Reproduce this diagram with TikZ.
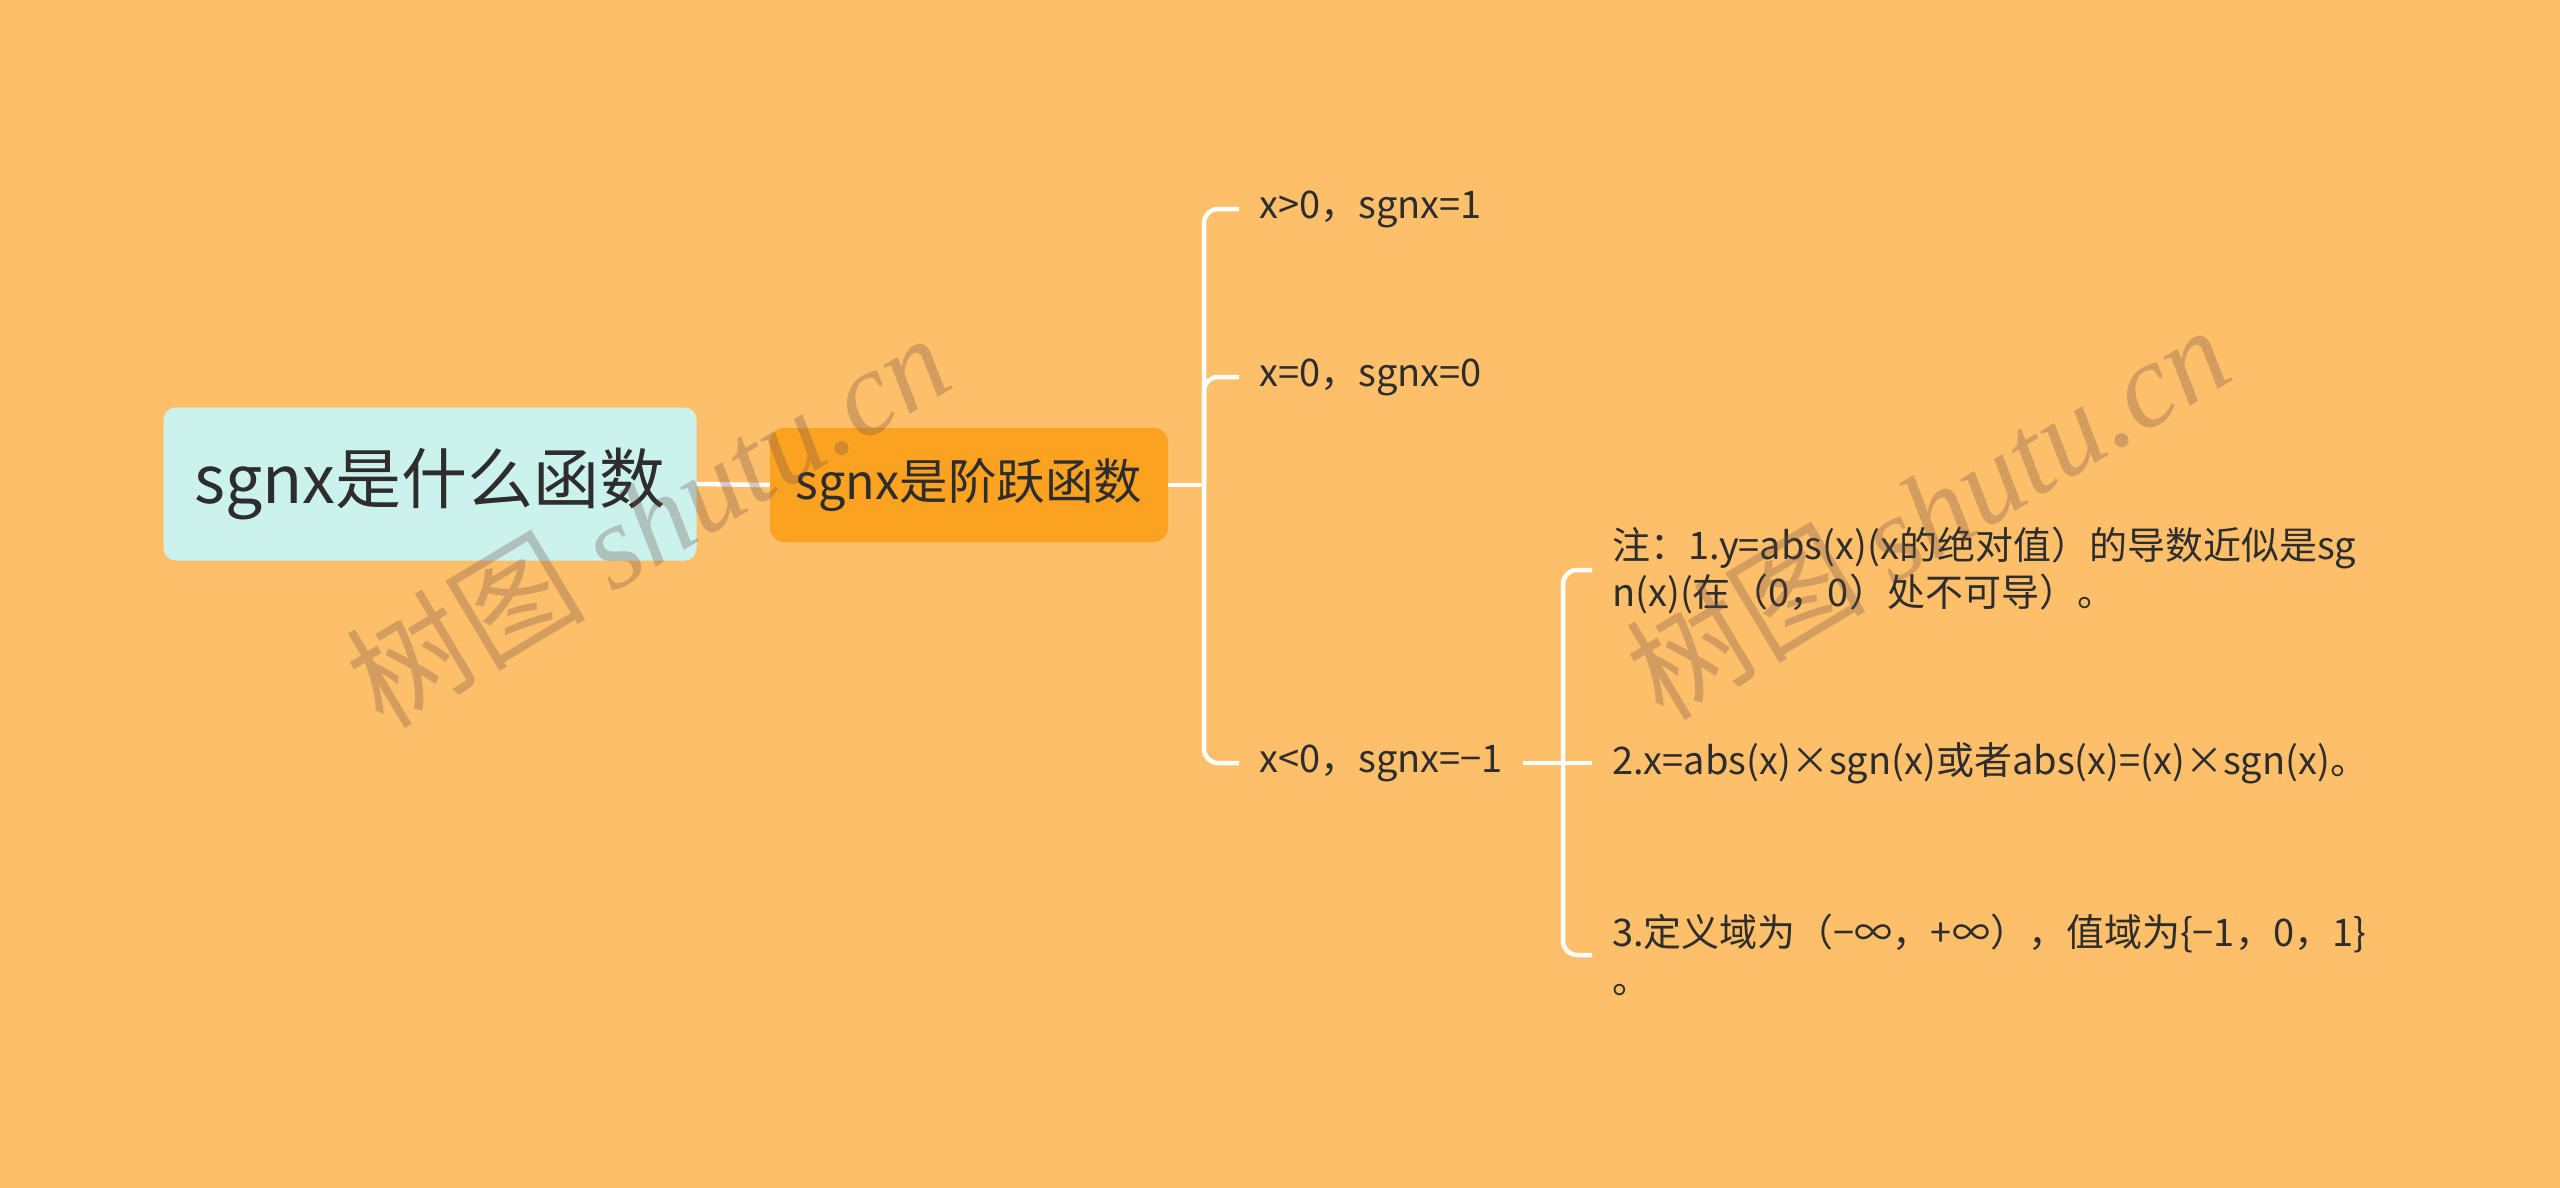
\documentclass[tikz,border=0pt]{standalone}
\usepackage{fontspec}
\setmainfont{Noto Sans CJK SC}
\newfontfamily\wmserif{Liberation Serif}
\usetikzlibrary{positioning}

\definecolor{bgorange}{RGB}{254,191,106}
\definecolor{rootcyan}{RGB}{204,242,238}
\definecolor{suborange}{RGB}{252,162,33}
\definecolor{inkgray}{RGB}{45,45,45}
\definecolor{wmbrown}{RGB}{110,80,70}

\begin{document}
\begin{tikzpicture}[
    x=1pt,
    y=-1pt,
    rootbox/.style={
        rectangle,
        rounded corners=12pt,
        fill=rootcyan,
        text=inkgray,
        minimum width=533pt,
        minimum height=153pt,
        font=\fontsize{66}{79}\selectfont
    },
    subbox/.style={
        rectangle,
        rounded corners=14pt,
        fill=suborange,
        text=inkgray,
        minimum width=398pt,
        minimum height=114pt,
        font=\fontsize{48.5}{58}\selectfont
    },
    leaf/.style={
        anchor=west,
        align=left,
        inner xsep=20pt,
        text=inkgray,
        font=\fontsize{38}{47}\selectfont
    },
    link/.style={draw=white, line width=4.5pt, rounded corners=14pt},
    wmark/.style={text=wmbrown, text opacity=0.3, font=\fontsize{120}{120}\selectfont}
]

% Background and page size
\fill[bgorange] (0,0) rectangle (2560,1188);
\useasboundingbox (0,0) rectangle (2560,1188);

% Main topic and subtopic
\node[rootbox] (root) at (430,484) {sgnx是什么函数};
\node[subbox] (jump) at (969,485) {sgnx是阶跃函数};

% Three cases
\node[leaf] (pos) at (1239,209) {x>0，sgnx=1};
\node[leaf] (zero) at (1239,377) {x=0，sgnx=0};
\node[leaf] (neg) at (1239,763) {x<0，sgnx=−1};

% Notes on the negative case
\node[leaf] (note1) at (1592,570) {注：1.y=abs(x)(x的绝对值）的导数近似是sg\\n(x)(在（0，0）处不可导）。};
\node[leaf] (note2) at (1592,763) {2.x=abs(x)×sgn(x)或者abs(x)=(x)×sgn(x)。};
\node[leaf] (note3) at (1592,955) {3.定义域为（−∞，+∞），值域为\{−1，0，1\}\\。};

% Forks
\coordinate (fork1) at (1204,485);
\coordinate (fork2) at (1563,763);

% Connectors
\draw[link] (root.east) -- (jump.west);
\draw[link] (jump.east) -- (fork1);
\draw[link] (fork1) |- (pos.west);
\draw[link] (fork1) |- (zero.west);
\draw[link] (fork1) |- (neg.west);
\draw[link] (neg.east) -- (fork2);
\draw[link] (fork2) |- (note1.west);
\draw[link] (fork2) -- (note2.west);
\draw[link] (fork2) |- (note3.west);

% Watermarks
\node[wmark, rotate=31] (wm1) at (647,519) {树图 {\wmserif\itshape shutu.cn}};
\node[wmark, rotate=31] (wm2) at (1927,511) {树图 {\wmserif\itshape shutu.cn}};

\end{tikzpicture}
\end{document}
